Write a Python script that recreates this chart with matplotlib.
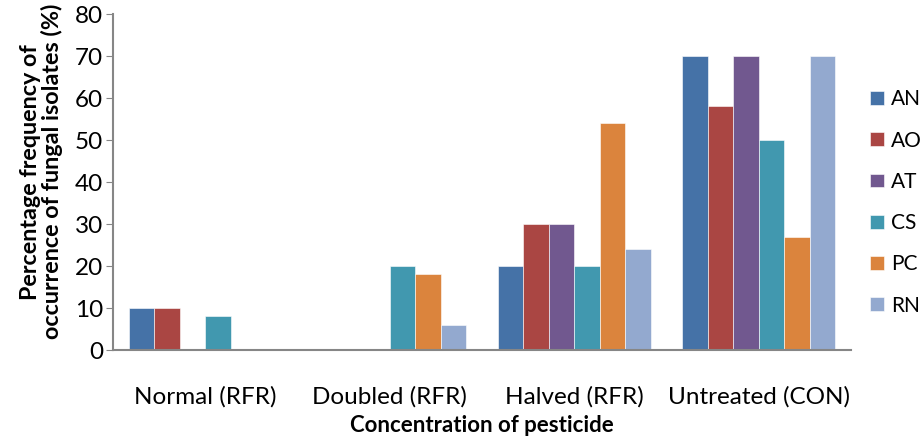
import matplotlib.pyplot as plt
import numpy as np

plt.rcParams['font.family'] = ['Lato', 'DejaVu Sans']

groups = ['Normal (RFR)', 'Doubled (RFR)', 'Halved (RFR)', 'Untreated (CON)']
series = ['AN', 'AO', 'AT', 'CS', 'PC', 'RN']
AN = [10, 0, 20, 70]
AO = [10, 0, 30, 58]
AT = [0, 0, 30, 70]
CS = [8, 20, 20, 50]
PC = [0, 18, 54, 27]
RN = [0, 6, 24, 70]
colors = ['#4572A7', '#AA4643', '#71588F', '#4198AF', '#DB843D', '#93A9CF']

fig = plt.figure(figsize=(9.22, 4.38), dpi=100)
ax = fig.add_axes([0.1226, 0.2009, 0.8004, 0.7671])

x = np.arange(len(groups))
w = 0.138
for i, (name, vals) in enumerate(zip(series, [AN, AO, AT, CS, PC, RN])):
    ax.bar(x + (i - 2.5) * w, vals, w, color=colors[i], label=name,
           edgecolor='white', linewidth=0.4)

ax.set_xlim(-0.5, 3.5)
ax.set_ylim(0, 80)
ax.set_yticks(range(0, 81, 10))
ax.set_xticks(x)
ax.set_xticklabels(groups, fontsize=17.5)
ax.tick_params(axis='x', length=0, pad=26)
ax.tick_params(axis='y', labelsize=17.5, length=5, color='#868686', pad=2)
for s in ['top', 'right']:
    ax.spines[s].set_visible(False)
for s in ['left', 'bottom']:
    ax.spines[s].set_color('#868686')
    ax.spines[s].set_linewidth(1.5)

ax.set_xlabel('Concentration of pesticide', fontsize=16, fontweight='bold', labelpad=5)
fig.text(0.045, 0.608, 'Percentage frequency of\noccurrence of fungal isolates (%)',
         rotation=90, ha='center', va='center', fontsize=16.8, fontweight='bold',
         linespacing=1.0)

leg = fig.legend(loc='upper left', bbox_to_anchor=(0.935, 0.815), frameon=False,
                 fontsize=15, handlelength=0.65, handleheight=0.65,
                 labelspacing=1.02, handletextpad=0.35, borderaxespad=0)

fig.savefig('out.png', dpi=100)
